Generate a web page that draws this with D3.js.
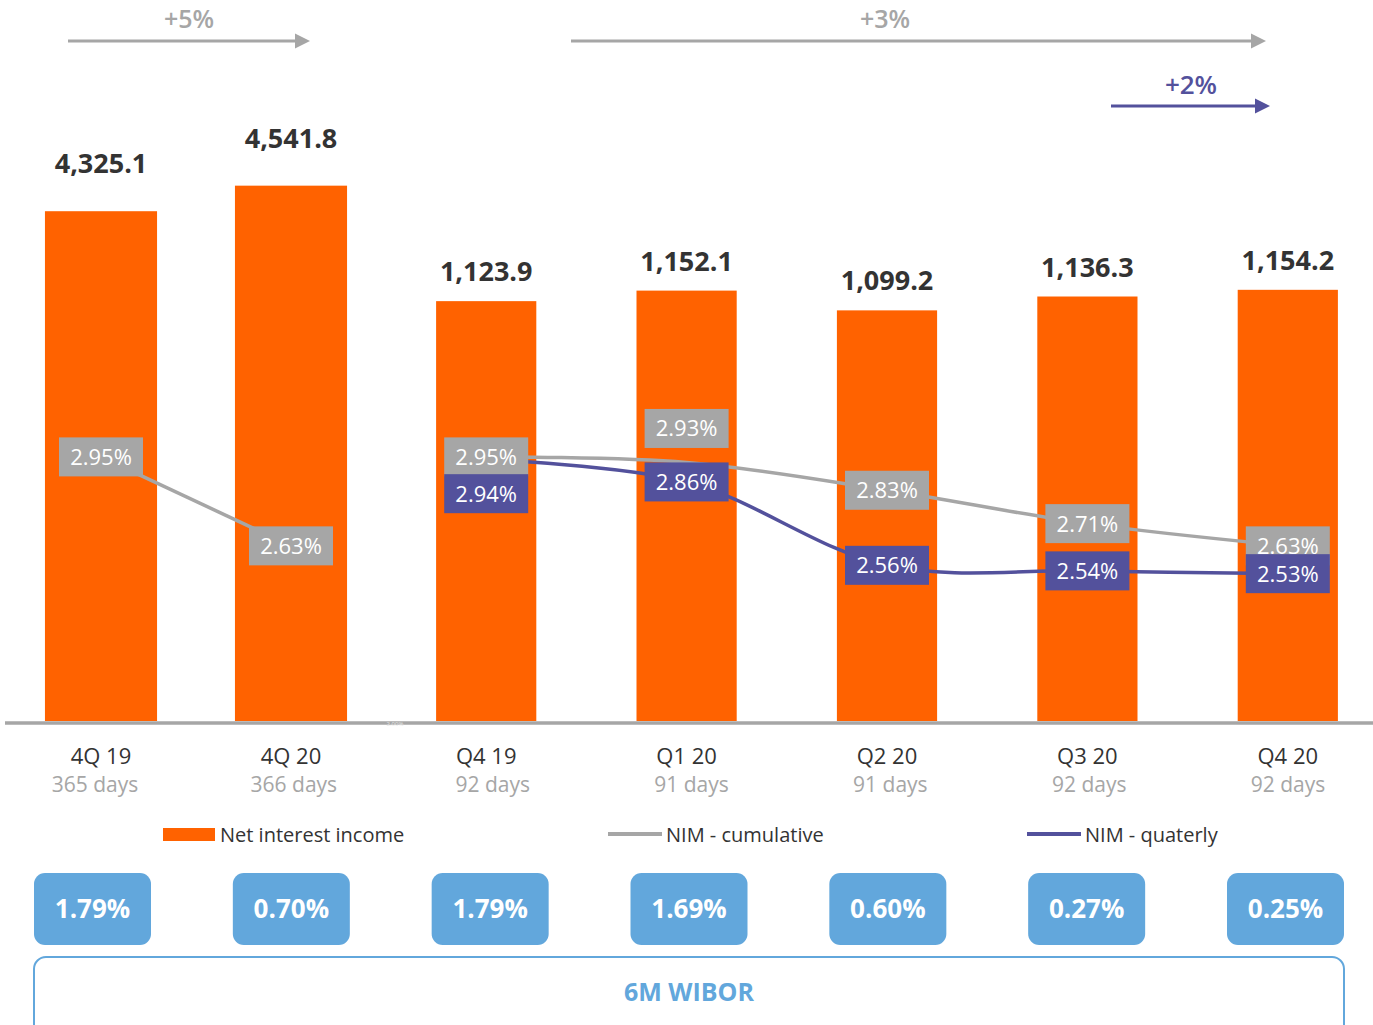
<!DOCTYPE html>
<html>
<head>
<meta charset="utf-8">
<script src="https://cdn.jsdelivr.net/npm/d3@7"></script>
<style>
  body { margin: 0; background: #fff; }
  svg { display: block; font-family: "Open Sans", sans-serif; }
</style>
</head>
<body>
<svg width="1373" height="1025"></svg>
<script>
// data
const categories = ["4Q 19", "4Q 20", "Q4 19", "Q1 20", "Q2 20", "Q3 20", "Q4 20"];
const days = ["365 days", "366 days", "92 days", "91 days", "91 days", "92 days", "92 days"];
const netInterest = [4325.1, 4541.8, 1123.9, 1152.1, 1099.2, 1136.3, 1154.2];
const nimCumulative = [2.95, 2.63, 2.95, 2.93, 2.83, 2.71, 2.63];
const nimQuarterly = [null, null, 2.94, 2.86, 2.56, 2.54, 2.53];
const wibor = [1.79, 0.70, 1.79, 1.69, 0.60, 0.27, 0.25];

const orange = "#ff6200",
  grey = "#a6a6a6",
  purple = "#53519c",
  sky = "#62a7dc",
  dark = "#333";

let svg = d3.select("svg");
let baseY = 721;

// two groups of bars: full years on the left, quarters on the right
let yearCats = categories.slice(0, 2);
let qtrCats = categories.slice(2);

let xYear = d3.scaleBand().domain(yearCats).range([6, 386]).paddingInner(0.41).paddingOuter(0.205);
let xQtr = d3.scaleBand().domain(qtrCats).range([386, 1388]).paddingInner(0.5).paddingOuter(0.25);
let yYear = d3.scaleLinear().domain([0, 6100]).range([baseY, 2]);
let yQtr = d3.scaleLinear().domain([0, 1930]).range([baseY, 0]);
let yNim = d3.scaleLinear().domain([2, 4.5]).range([baseY, 26]);

let xs = i => (i < 2 ? xYear : xQtr);
let ys = i => (i < 2 ? yYear : yQtr);
let cx = i => xs(i)(categories[i]) + xs(i).bandwidth() / 2;

let rows = categories.map((c, i) => ({
  cat: c,
  i: i,
  nii: netInterest[i],
  cum: nimCumulative[i],
  qtr: nimQuarterly[i],
  days: days[i],
  wibor: wibor[i]
}));

// top growth arrows
let growth = (a, b) => "+" + Math.round((netInterest[b] / netInterest[a] - 1) * 100) + "%";
let arrows = [
  { text: growth(0, 1), x1: 68, x2: 310, y: 41, tx: 189, ty: 28, color: grey, size: 25 },
  { text: growth(2, 6), x1: 571, x2: 1266, y: 41, tx: 885, ty: 28, color: grey, size: 25 },
  { text: growth(5, 6), x1: 1111, x2: 1270, y: 106, tx: 1191, ty: 94, color: purple, size: 26 }
];
let arr = svg.append("g").attr("class", "arrows");
arrows.forEach(a => {
  arr.append("line")
    .attr("x1", a.x1).attr("x2", a.x2 - 12)
    .attr("y1", a.y).attr("y2", a.y)
    .attr("stroke", a.color).attr("stroke-width", 3);
  arr.append("path")
    .attr("d", `M${a.x2 - 15},${a.y - 7.5} L${a.x2},${a.y} L${a.x2 - 15},${a.y + 7.5} Z`)
    .attr("fill", a.color);
  arr.append("text")
    .attr("x", a.tx).attr("y", a.ty)
    .attr("text-anchor", "middle")
    .attr("font-size", a.size).attr("font-weight", 600)
    .attr("fill", a.color)
    .text(a.text);
});

// bars
svg.append("g")
  .selectAll("rect")
  .data(rows)
  .enter()
  .append("rect")
  .attr("x", d => xs(d.i)(d.cat))
  .attr("width", d => xs(d.i).bandwidth())
  .attr("y", d => ys(d.i)(d.nii))
  .attr("height", d => baseY - ys(d.i)(d.nii))
  .attr("fill", orange);

svg.append("g")
  .selectAll("text")
  .data(rows)
  .enter()
  .append("text")
  .attr("x", d => cx(d.i))
  .attr("y", d => ys(d.i)(d.nii) - (d.i < 2 ? 38 : 20))
  .attr("text-anchor", "middle")
  .attr("font-size", 27)
  .attr("font-weight", 700)
  .attr("fill", dark)
  .text(d => d3.format(",.1f")(d.nii));

// axis line
svg.append("line")
  .attr("x1", 5).attr("x2", 1373)
  .attr("y1", baseY + 2).attr("y2", baseY + 2)
  .attr("stroke", grey).attr("stroke-width", 3.5);
svg.append("text")
  .attr("x", 395).attr("y", baseY + 4.5)
  .attr("text-anchor", "middle")
  .attr("font-size", 6).attr("fill", "#e6e6e6")
  .text("2.00%");

// NIM lines
let lineStraight = d3.line().x(d => cx(d.i)).y(d => yNim(d.v));
let lineSmooth = d3.line().x(d => cx(d.i)).y(d => yNim(d.v)).curve(d3.curveCatmullRom.alpha(0.5));

let cumYear = rows.slice(0, 2).map(d => ({ i: d.i, v: d.cum }));
let cumQtr = rows.slice(2).map(d => ({ i: d.i, v: d.cum }));
let qtrQtr = rows.slice(2).map(d => ({ i: d.i, v: d.qtr }));

svg.append("path").attr("d", lineSmooth(qtrQtr))
  .attr("fill", "none").attr("stroke", purple).attr("stroke-width", 3.5);
svg.append("path").attr("d", lineStraight(cumYear))
  .attr("fill", "none").attr("stroke", grey).attr("stroke-width", 3.5);
svg.append("path").attr("d", lineSmooth(cumQtr))
  .attr("fill", "none").attr("stroke", grey).attr("stroke-width", 3.5);

// labels moved off their point where the two series would collide
let nudge = { cum: { 3: -34 }, qtr: { 2: 34 } };

function nimLabels(key, color) {
  let g = svg.append("g")
    .selectAll("g")
    .data(rows.filter(d => d[key] != null))
    .enter()
    .append("g")
    .attr("transform", d => `translate(${cx(d.i)},${yNim(d[key]) + (nudge[key][d.i] || 0)})`);
  g.append("rect")
    .attr("x", -42).attr("y", -19.5)
    .attr("width", 84).attr("height", 39)
    .attr("fill", color);
  g.append("text")
    .attr("text-anchor", "middle")
    .attr("dy", "0.36em")
    .attr("font-size", 22)
    .attr("fill", "#fff")
    .text(d => d3.format(".2f")(d[key]) + "%");
}
nimLabels("cum", grey);
nimLabels("qtr", purple);

// category labels
let xEven = d3.scalePoint().domain(categories).range([92.5, 1285.5]);

svg.append("g")
  .selectAll("text")
  .data(rows)
  .enter()
  .append("text")
  .attr("x", d => cx(d.i))
  .attr("y", 764)
  .attr("text-anchor", "middle")
  .attr("font-size", 22)
  .attr("fill", dark)
  .text(d => d.cat);

svg.append("g")
  .selectAll("text")
  .data(rows)
  .enter()
  .append("text")
  .attr("x", d => xEven(d.cat) + 2.5)
  .attr("y", 792)
  .attr("text-anchor", "middle")
  .attr("font-size", 21)
  .attr("fill", grey)
  .text(d => d.days);

// legend
let legend = svg.append("g").attr("font-size", 20).attr("fill", dark);
legend.append("rect").attr("x", 163).attr("y", 828).attr("width", 52).attr("height", 13).attr("fill", orange);
legend.append("text").attr("x", 220).attr("y", 842).text("Net interest income");
legend.append("line").attr("x1", 608).attr("x2", 662).attr("y1", 834).attr("y2", 834)
  .attr("stroke", grey).attr("stroke-width", 4);
legend.append("text").attr("x", 666).attr("y", 842).text("NIM - cumulative");
legend.append("line").attr("x1", 1027).attr("x2", 1081).attr("y1", 834).attr("y2", 834)
  .attr("stroke", purple).attr("stroke-width", 4);
legend.append("text").attr("x", 1085).attr("y", 842).text("NIM - quaterly");

// 6M WIBOR boxes
let wb = svg.append("g")
  .selectAll("g")
  .data(rows)
  .enter()
  .append("g")
  .attr("transform", d => `translate(${xEven(d.cat)},909)`);
wb.append("rect")
  .attr("x", -58.5).attr("y", -36)
  .attr("width", 117).attr("height", 72)
  .attr("rx", 11)
  .attr("fill", sky);
wb.append("text")
  .attr("text-anchor", "middle")
  .attr("dy", "0.36em")
  .attr("font-size", 26)
  .attr("font-weight", 700)
  .attr("fill", "#fff")
  .text(d => d3.format(".2f")(d.wibor) + "%");

svg.append("rect")
  .attr("x", 34).attr("y", 957)
  .attr("width", 1310).attr("height", 100)
  .attr("rx", 12)
  .attr("fill", "none")
  .attr("stroke", sky)
  .attr("stroke-width", 2);
svg.append("text")
  .attr("x", 689).attr("y", 1001)
  .attr("text-anchor", "middle")
  .attr("font-size", 25)
  .attr("font-weight", 700)
  .attr("fill", sky)
  .text("6M WIBOR");
</script>
</body>
</html>
